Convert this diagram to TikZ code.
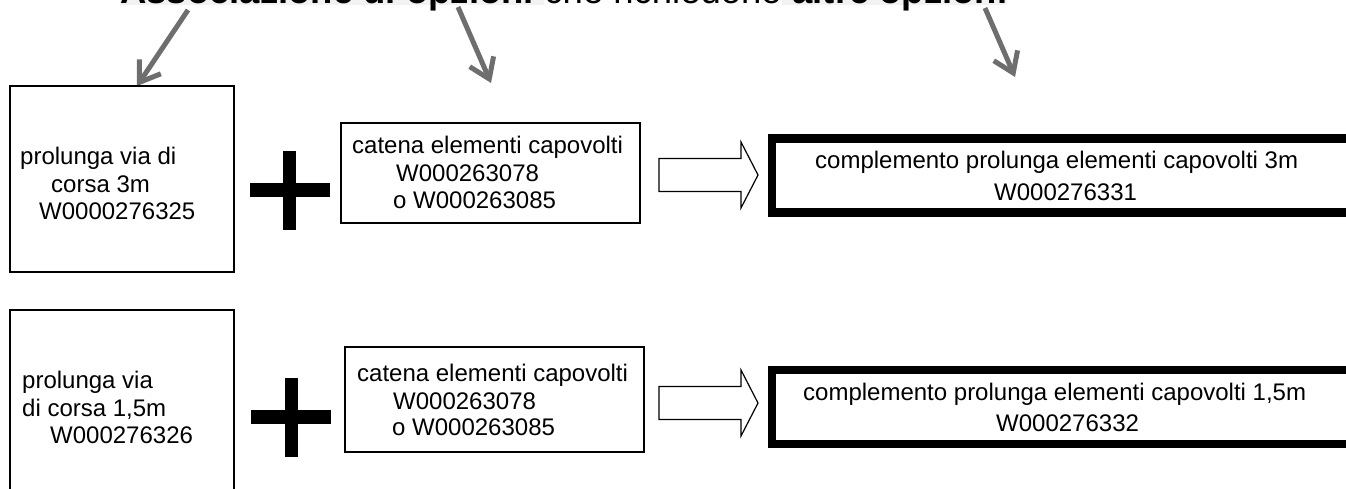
\documentclass[tikz,border=0pt]{standalone}
\usepackage{fontspec}
\setmainfont{Liberation Sans}
\usetikzlibrary{arrows.meta}

\definecolor{hlgray}{RGB}{242,242,242}
\definecolor{pointer}{RGB}{110,110,110}

\tikzset{
  hl/.style={fill=hlgray, inner xsep=0pt, inner ysep=0pt, anchor=base west,
             text height=0.905em, text depth=0.212em},
  plain/.style={inner xsep=0pt, inner ysep=0pt, anchor=base west,
             text height=0.905em, text depth=0.212em},
  pointerarrow/.style={draw=pointer, line width=5pt,
             -{Straight Barb[length=19pt, width=26pt, line width=5pt]}},
  thinbox/.style={draw, line width=1.2pt, inner sep=0pt},
  thickbox/.style={draw, line width=8.5pt},
  txt/.style={anchor=base west, inner sep=0pt, font=\fontsize{24}{27.5}\selectfont},
  % outlined block arrow, drawn from the middle of its tail
  blockarrow/.pic={\draw[line width=1.2pt, line join=miter]
      (0,-16.5) -- (82,-16.5) -- (82,-33) -- (99,0) -- (82,33)
      -- (82,16.5) -- (0,16.5) -- cycle;},
  plussign/.pic={\fill (-40,-7) rectangle (40,7);
                 \fill (-6.5,-39.5) rectangle (6.5,39.5);}
}

\begin{document}
\begin{tikzpicture}[x=1pt,y=-1pt]
\useasboundingbox (0,0) rectangle (1346,488);
\clip (0,0) rectangle (1346,488);

% heading
\begin{scope}[font=\fontsize{36.5}{40}\selectfont]
  \node[hl] (t1) at (120,3.3) {\bfseries Associazione di opzioni\kern0.278em};
  \node[plain] (t2) at (t1.base east) {che richiedono};
  \node[hl] (t3) at (t2.base east) {\bfseries\kern0.278em altre opzioni};
\end{scope}

% pointers from the heading
\coordinate (p1s) at (188,10);  \coordinate (p1e) at (137,86);
\coordinate (p2s) at (458,7);   \coordinate (p2e) at (491,83);
\coordinate (p3s) at (985,8);   \coordinate (p3e) at (1015,77);
\draw[pointerarrow] (p1s) -- (p1e);
\draw[pointerarrow] (p2s) -- (p2e);
\draw[pointerarrow] (p3s) -- (p3e);

% first row
\node[thinbox, minimum width=224pt, minimum height=186pt] (ext1) at (122,179) {};
\node[txt] (ext1a) at (20,164) {prolunga via di};
\node[txt] (ext1b) at (51,192) {corsa 3m};
\node[txt] (ext1c) at (39,219) {W0000276325};

\pic at (289.5,190) {plussign};

\node[thinbox, minimum width=299pt, minimum height=100pt] (cat1) at (490.5,173) {};
\node[txt] (cat1a) at (352,153) {catena elementi capovolti};
\node[txt] (cat1b) at (396,181) {W000263078};
\node[txt] (cat1c) at (393,208) {o W000263085};

\pic at (659,175) {blockarrow};

\node[thickbox, minimum width=620pt, minimum height=74pt] (res1) at (1082,175.5) {};
\node[txt] (res1a) at (815,168) {complemento prolunga elementi capovolti 3m};
\node[txt] (res1b) at (994,200) {W000276331};

% second row
\node[thinbox, minimum width=224pt, minimum height=220pt] (ext2) at (122,420) {};
\node[txt] (ext2a) at (22,388) {prolunga via};
\node[txt] (ext2b) at (22,416) {di corsa 1,5m};
\node[txt] (ext2c) at (50,443) {W000276326};

\pic at (291,417) {plussign};

\node[thinbox, minimum width=299pt, minimum height=105pt] (cat2) at (494.5,399.5) {};
\node[txt] (cat2a) at (357,381) {catena elementi capovolti};
\node[txt] (cat2b) at (393,409) {W000263078};
\node[txt] (cat2c) at (392,435) {o W000263085};

\pic at (659,403) {blockarrow};

\node[thickbox, minimum width=620pt, minimum height=74pt] (res2) at (1082,407) {};
\node[txt] (res2a) at (803,400) {complemento prolunga elementi capovolti 1,5m};
\node[txt] (res2b) at (996,431) {W000276332};
\end{tikzpicture}
\end{document}
